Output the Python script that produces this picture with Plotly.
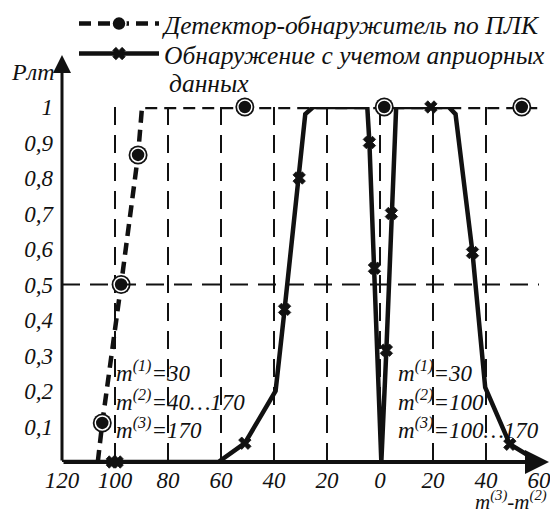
import plotly.graph_objects as go

# ---------------- data ----------------
X_TICK_VALUES = [-120, -100, -80, -60, -40, -20, 0, 20, 40, 60]
X_TICK_LABELS = ["120", "100", "80", "60", "40", "20", "0", "20", "40", "60"]
Y_TICK_VALUES = [0.1, 0.2, 0.3, 0.4, 0.5, 0.6, 0.7, 0.8, 0.9, 1.0]
Y_TICK_LABELS = ["0,1", "0,2", "0,3", "0,4", "0,5", "0,6", "0,7", "0,8", "0,9", "1"]

SERIES_PLK = "Детектор-обнаружитель по ПЛК"
SERIES_APR = "Обнаружение с учетом априорных"
SERIES_APR_CONT = "данных"

PLK_LINE_X = [-106.5, -104.8, -97.7, -91.3, -89.8, 60]
PLK_LINE_Y = [0.0, 0.11, 0.5, 0.865, 1.0, 1.0]
PLK_MARK_X = [-104.8, -97.7, -91.3, -51, 1.6, 53.5]
PLK_MARK_Y = [0.11, 0.5, 0.865, 1.0, 1.0, 1.0]

APR_LINE_X = [-120, -61, -51, -39.4, -36, -30.5, -28.2, -25.2, -4.8, -4.0, -2.1,
              0.5, 2.4, 4.3, 6.1, 25.9, 28.5, 34.9, 39.7, 49, 60]
APR_LINE_Y = [0.0, 0.0, 0.053, 0.2, 0.43, 0.80, 0.98, 1.0, 1.0, 0.9, 0.546,
              0.0, 0.315, 0.70, 1.0, 1.0, 0.98, 0.59, 0.21, 0.05, 0.0]
APR_MARK_X = [-101, -99.2, -51, -36, -30.5, -4.0, -2.1, 2.4, 4.3, 19.2, 34.9, 49]
APR_MARK_Y = [0.0, 0.0, 0.053, 0.43, 0.80, 0.90, 0.546, 0.315, 0.70, 1.0, 0.59, 0.05]

LEFT_PARAMS = ["m<sup>(1)</sup>=30", "m<sup>(2)</sup>=40…170", "m<sup>(3)</sup>=170"]
RIGHT_PARAMS = ["m<sup>(1)</sup>=30", "m<sup>(2)</sup>=100", "m<sup>(3)</sup>=100…170"]
PARAM_ROWS_Y = [0.255, 0.173, 0.094]
LEFT_PARAMS_X = -100.3
RIGHT_PARAMS_X = 6.1

Y_TITLE = "Рлт"
X_TITLE = "m<sup>(3)</sup>-m<sup>(2)</sup>"

# ---------------- styling ----------------
FONT = "Liberation Serif"
FS = 23
LFS = 25.5
BLACK = "#111111"
DASH_DATA = "12px,7px"
DASH_GRID = "18px,10px"

# the page body adds an 8px offset; plot area in window px: x 62..539, y 107..462
PLOT_L, PLOT_R, PLOT_T, PLOT_B = 62, 539, 107, 462
FIG_W, FIG_H = 542, 508


def it(s):
    return "<i>" + s + "</i>"


def px_x(px):
    return (px - PLOT_L) / (PLOT_R - PLOT_L)


def px_y(py):
    return (PLOT_B - py) / (PLOT_B - PLOT_T)


PLK_MARKER = dict(symbol="circle", size=14, color=BLACK, line=dict(color="white", width=1.5))
APR_MARKER = dict(symbol="x", size=11, color=BLACK, line=dict(color=BLACK, width=0.8))

fig = go.Figure()

# PLK detector: line, outer rings, inner dots
fig.add_trace(go.Scatter(x=PLK_LINE_X, y=PLK_LINE_Y, mode="lines",
                         line=dict(color=BLACK, width=4.5, dash=DASH_DATA),
                         showlegend=False, hoverinfo="skip"))
fig.add_trace(go.Scatter(x=PLK_MARK_X, y=PLK_MARK_Y, mode="markers",
                         marker=dict(symbol="circle", size=19, color=BLACK),
                         showlegend=False, cliponaxis=False, hoverinfo="skip"))
fig.add_trace(go.Scatter(x=PLK_MARK_X, y=PLK_MARK_Y, mode="markers", marker=PLK_MARKER,
                         showlegend=False, cliponaxis=False))

# a-priori detection
fig.add_trace(go.Scatter(x=APR_LINE_X, y=APR_LINE_Y, mode="lines",
                         line=dict(color=BLACK, width=4.5),
                         showlegend=False, hoverinfo="skip", cliponaxis=False))
fig.add_trace(go.Scatter(x=APR_MARK_X, y=APR_MARK_Y, mode="markers", marker=APR_MARKER,
                         showlegend=False, cliponaxis=False))

# legend entries (one legend per row, so rows can sit as tight as in the original)
fig.add_trace(go.Scatter(x=[None], y=[None], mode="lines+markers", name=it(SERIES_PLK),
                         line=dict(color=BLACK, width=4.5, dash=DASH_DATA),
                         marker=PLK_MARKER, legend="legend"))
fig.add_trace(go.Scatter(x=[None], y=[None], mode="lines+markers", name=it(SERIES_APR),
                         line=dict(color=BLACK, width=4.5),
                         marker=APR_MARKER, legend="legend2"))

annotations = []
for txt, yy in zip(LEFT_PARAMS, PARAM_ROWS_Y):
    annotations.append(dict(x=LEFT_PARAMS_X, y=yy, xref="x", yref="y", text=it(txt),
                            showarrow=False, xanchor="left", yanchor="middle"))
for txt, yy in zip(RIGHT_PARAMS, PARAM_ROWS_Y):
    annotations.append(dict(x=RIGHT_PARAMS_X, y=yy, xref="x", yref="y", text=it(txt),
                            showarrow=False, xanchor="left", yanchor="middle"))
# axis arrows
annotations.append(dict(x=0, y=px_y(55), xref="paper", yref="paper", ax=0,
                        ay=PLOT_B - 55, axref="pixel", ayref="pixel", text="",
                        showarrow=True, arrowhead=2, arrowsize=1.2, arrowwidth=3,
                        arrowcolor=BLACK))
annotations.append(dict(x=px_x(549), y=0, xref="paper", yref="paper",
                        ax=-(549 - PLOT_L), ay=0, axref="pixel", ayref="pixel", text="",
                        showarrow=True, arrowhead=2, arrowsize=1.2, arrowwidth=4,
                        arrowcolor=BLACK))
annotations.append(dict(x=px_x(32), y=px_y(72), xref="paper", yref="paper", text=it(Y_TITLE),
                        showarrow=False, xanchor="center", yanchor="middle",
                        font=dict(size=24)))
annotations.append(dict(x=px_x(549), y=px_y(515.5), xref="paper", yref="paper",
                        text=it(X_TITLE), showarrow=False, xanchor="right",
                        yanchor="bottom", font=dict(size=21)))
annotations.append(dict(x=px_x(167), y=px_y(83), xref="paper", yref="paper",
                        text=it(SERIES_APR_CONT), showarrow=False, xanchor="left",
                        yanchor="middle", font=dict(size=LFS)))

LEGEND_COMMON = dict(x=px_x(74), xanchor="left", yanchor="middle",
                     bgcolor="rgba(0,0,0,0)", itemwidth=80,
                     font=dict(family=FONT, size=LFS))

fig.update_layout(
    width=FIG_W, height=FIG_H,
    margin=dict(l=PLOT_L - 8, r=FIG_W - (PLOT_R - 8), t=PLOT_T - 8,
                b=FIG_H - (PLOT_B - 8), autoexpand=False),
    paper_bgcolor="white", plot_bgcolor="white",
    font=dict(family=FONT, size=FS, color=BLACK),
    showlegend=True,
    legend=dict(y=px_y(24), **LEGEND_COMMON),
    legend2=dict(y=px_y(54), **LEGEND_COMMON),
    annotations=annotations,
    shapes=[dict(type="line", xref="x", yref="y", x0=-120, x1=60, y0=0.5, y1=0.5,
                 line=dict(color=BLACK, width=2, dash=DASH_GRID))],
    xaxis=dict(range=[-120, 60], tickmode="array", tickvals=X_TICK_VALUES,
               ticktext=[it(t) for t in X_TICK_LABELS], showgrid=True, gridcolor=BLACK,
               gridwidth=2, griddash=DASH_GRID, zeroline=False, showline=False, ticks="",
               ticklabelstandoff=2, ticklabeloverflow="allow", fixedrange=True),
    yaxis=dict(range=[0, 1], tickmode="array", tickvals=Y_TICK_VALUES,
               ticktext=[it(t) for t in Y_TICK_LABELS], showgrid=False, zeroline=False,
               showline=False, ticks="", ticklabelstandoff=8, ticklabeloverflow="allow",
               fixedrange=True),
)

fig.write_html("out.html")
